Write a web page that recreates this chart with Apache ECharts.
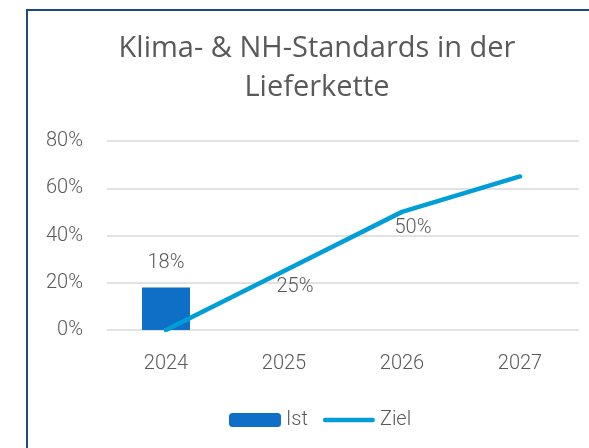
<!DOCTYPE html>
<html>
<head>
<meta charset="utf-8">
<title>Klima- & NH-Standards in der Lieferkette</title>
<script src="https://cdn.jsdelivr.net/npm/echarts@6/dist/echarts.min.js"></script>
<style>
  html, body { margin: 0; padding: 0; background: #fff; }
  #chart { width: 589px; height: 448px; }
</style>
</head>
<body>
<div id="chart"></div>
<script>
  // daten
  var years = ['2024', '2025', '2026', '2027'];
  var istValues = [18, null, null, null];
  var zielValues = [0, 25, 50, 65];
  var yTicks = [0, 20, 40, 60, 80];

  var textColor = '#595959';
  var narrowFont = "Roboto, 'Liberation Sans Narrow', sans-serif";

  // ziel-labels nur fuer die mittleren punkte
  var zielData = zielValues.map(function (v, i) {
    var showLabel = i > 0 && i < zielValues.length - 1;
    return { value: v, label: { show: showLabel } };
  });

  var option = {
    backgroundColor: '#fff',
    title: {
      text: 'Klima- & NH-Standards in der\nLieferkette',
      left: 317,
      top: 29,
      padding: 0,
      textAlign: 'center',
      textStyle: {
        fontFamily: "'Open Sans', sans-serif",
        fontSize: 29,
        fontWeight: 'normal',
        color: textColor,
        lineHeight: 39
      }
    },
    graphic: [{
      type: 'rect',
      shape: { x: 27, y: 10, width: 700, height: 600 },
      style: { fill: 'none', stroke: '#1F497D', lineWidth: 2 },
      silent: true
    }],
    legend: {
      left: 224,
      top: 405,
      itemWidth: 52,
      itemHeight: 14,
      itemGap: 15,
      data: [
        { name: 'Ist' },
        // linie mit runden enden als symbol
        { name: 'Ziel', icon: 'path://M2.5,0 H53.5 A2.5,2.5 0 0 1 53.5,5 H2.5 A2.5,2.5 0 0 1 2.5,0 Z' }
      ],
      textStyle: { fontFamily: narrowFont, fontSize: 20, fontWeight: 300, color: textColor }
    },
    grid: {
      left: 107,
      right: 10,
      top: 141,
      bottom: 118,
      containLabel: false
    },
    xAxis: {
      type: 'category',
      data: years,
      axisLine: { show: false },
      axisTick: { show: false },
      axisLabel: { margin: 24, fontFamily: narrowFont, fontSize: 20, fontWeight: 300, color: textColor }
    },
    yAxis: {
      type: 'value',
      min: yTicks[0],
      max: yTicks[yTicks.length - 1],
      interval: 20,
      axisLine: { show: false },
      axisTick: { show: false },
      splitLine: { lineStyle: { color: '#D9D9D9', width: 1.5 } },
      axisLabel: {
        margin: 24,
        formatter: '{value}%',
        fontFamily: narrowFont,
        fontSize: 20,
        fontWeight: 300,
        color: textColor
      }
    },
    series: [{
      name: 'Ist',
      type: 'bar',
      data: istValues,
      barWidth: 48,
      itemStyle: { color: '#0F6FC6' },
      label: {
        show: true,
        position: 'top',
        distance: 14,
        formatter: '{c}%',
        fontFamily: narrowFont,
        fontSize: 20,
        fontWeight: 300,
        color: textColor
      }
    }, {
      name: 'Ziel',
      type: 'line',
      data: zielData,
      symbol: 'circle',
      symbolSize: 1,
      lineStyle: { color: '#009DD9', width: 4.5, cap: 'round', join: 'round' },
      itemStyle: { color: '#009DD9' },
      label: {
        position: 'bottom',
        distance: 6,
        offset: [11, 0],
        formatter: '{c}%',
        fontFamily: narrowFont,
        fontSize: 20,
        fontWeight: 300,
        color: textColor
      },
      z: 3
    }]
  };

  var chart = echarts.init(document.getElementById('chart'));
  chart.setOption(option);
</script>
</body>
</html>
